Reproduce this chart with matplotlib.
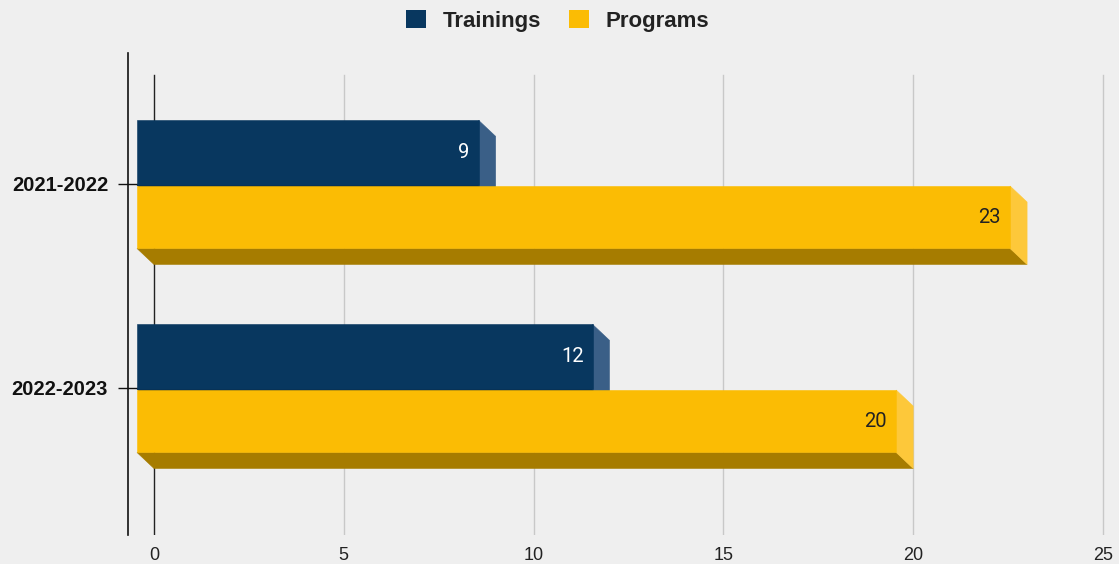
import matplotlib.pyplot as plt
from matplotlib.patches import Polygon, Patch

years = ['2021-2022', '2022-2023']
trainings = [9, 12]
programs = [23, 20]
xticks = [0, 5, 10, 15, 20, 25]

W, H = 1119, 564
fig = plt.figure(figsize=(W / 100, H / 100), dpi=100)
fig.patch.set_facecolor('#efefef')

# axes placed in pixels: spine at x=128, data 0 at 154, 25 at 1103
ppu = (1103 - 154) / 25
ax = fig.add_axes([128 / W, (H - 535) / H, (1110 - 128) / W, (535 - 53) / H])
ax.set_facecolor('#efefef')
ax.set_xlim((128 - 154) / ppu, (1110 - 154) / ppu)
ax.set_ylim(1 + (535 - 388) / 204, -(184 - 53) / 204)

dx = 17 / ppu      # depth of 3D effect in x
dy = 16 / 204      # depth in y

gtop = (535 - 75) / (535 - 53)
for t in xticks:
    ax.axvline(t, ymin=0, ymax=gtop, color='#222222' if t == 0 else '#c8c8c8', lw=1, zorder=0)


def bar3d(v, top, bot, front, side, under, z):
    ax.add_patch(Polygon([(-dx, bot), (v - dx, bot), (v, bot + dy), (0, bot + dy)],
                         closed=True, fc=under, ec=under, lw=0.4, zorder=z))
    ax.add_patch(Polygon([(v - dx, top), (v, top + dy), (v, bot + dy), (v - dx, bot)],
                         closed=True, fc=side, ec=side, lw=0.4, zorder=z))
    ax.add_patch(Polygon([(-dx, top), (v - dx, top), (v - dx, bot), (-dx, bot)],
                         closed=True, fc=front, ec=front, lw=0.4, zorder=z))


for i in range(len(years)):
    t_top, t_bot = i - 0.312, i + 0.005
    p_top, p_bot = i + 0.01, i + 0.316
    bar3d(trainings[i], t_top, t_bot, '#08375f', '#3a5f87', '#04223d', 2)
    bar3d(programs[i], p_top, p_bot, '#fbbc04', '#fdc83a', '#a67c00', 3)
    ax.annotate(str(trainings[i]), (trainings[i] - dx, (t_top + t_bot) / 2),
                xytext=(-6.5, 0), textcoords='offset points', ha='right', va='center',
                color='white', fontsize=14.5, family='Roboto', zorder=5)
    ax.annotate(str(programs[i]), (programs[i] - dx, (p_top + p_bot) / 2),
                xytext=(-6.5, 0), textcoords='offset points', ha='right', va='center',
                color='#222222', fontsize=14.5, family='Roboto', zorder=5)

for s in ['top', 'right', 'bottom']:
    ax.spines[s].set_visible(False)
ax.spines['left'].set_color('#111111')
ax.spines['left'].set_linewidth(1.2)

ax.set_xticks(xticks)
ax.set_xticklabels([str(t) for t in xticks], family='Liberation Sans',
                   fontsize=13, color='#222222')
ax.tick_params(axis='x', length=0, pad=9)
ax.set_yticks(range(len(years)))
ax.set_yticklabels(years, fontsize=14.5, fontweight='bold', family='Liberation Sans', color='#111111')
ax.tick_params(axis='y', direction='inout', length=13.7, width=1, color='#111111', pad=7.5)

handles = [Patch(fc='#08375f', label='Trainings'), Patch(fc='#fbbc04', label='Programs')]
fig.legend(handles=handles, loc='upper center', bbox_to_anchor=(0.4985, 1.018), ncol=2,
           frameon=False, prop={'family': 'Liberation Sans', 'weight': 'bold', 'size': 16},
           handlelength=0.9, handleheight=0.9, handletextpad=0.75, columnspacing=1.25,
           labelcolor='#222222')

fig.savefig('out.png', dpi=100, facecolor=fig.get_facecolor())
